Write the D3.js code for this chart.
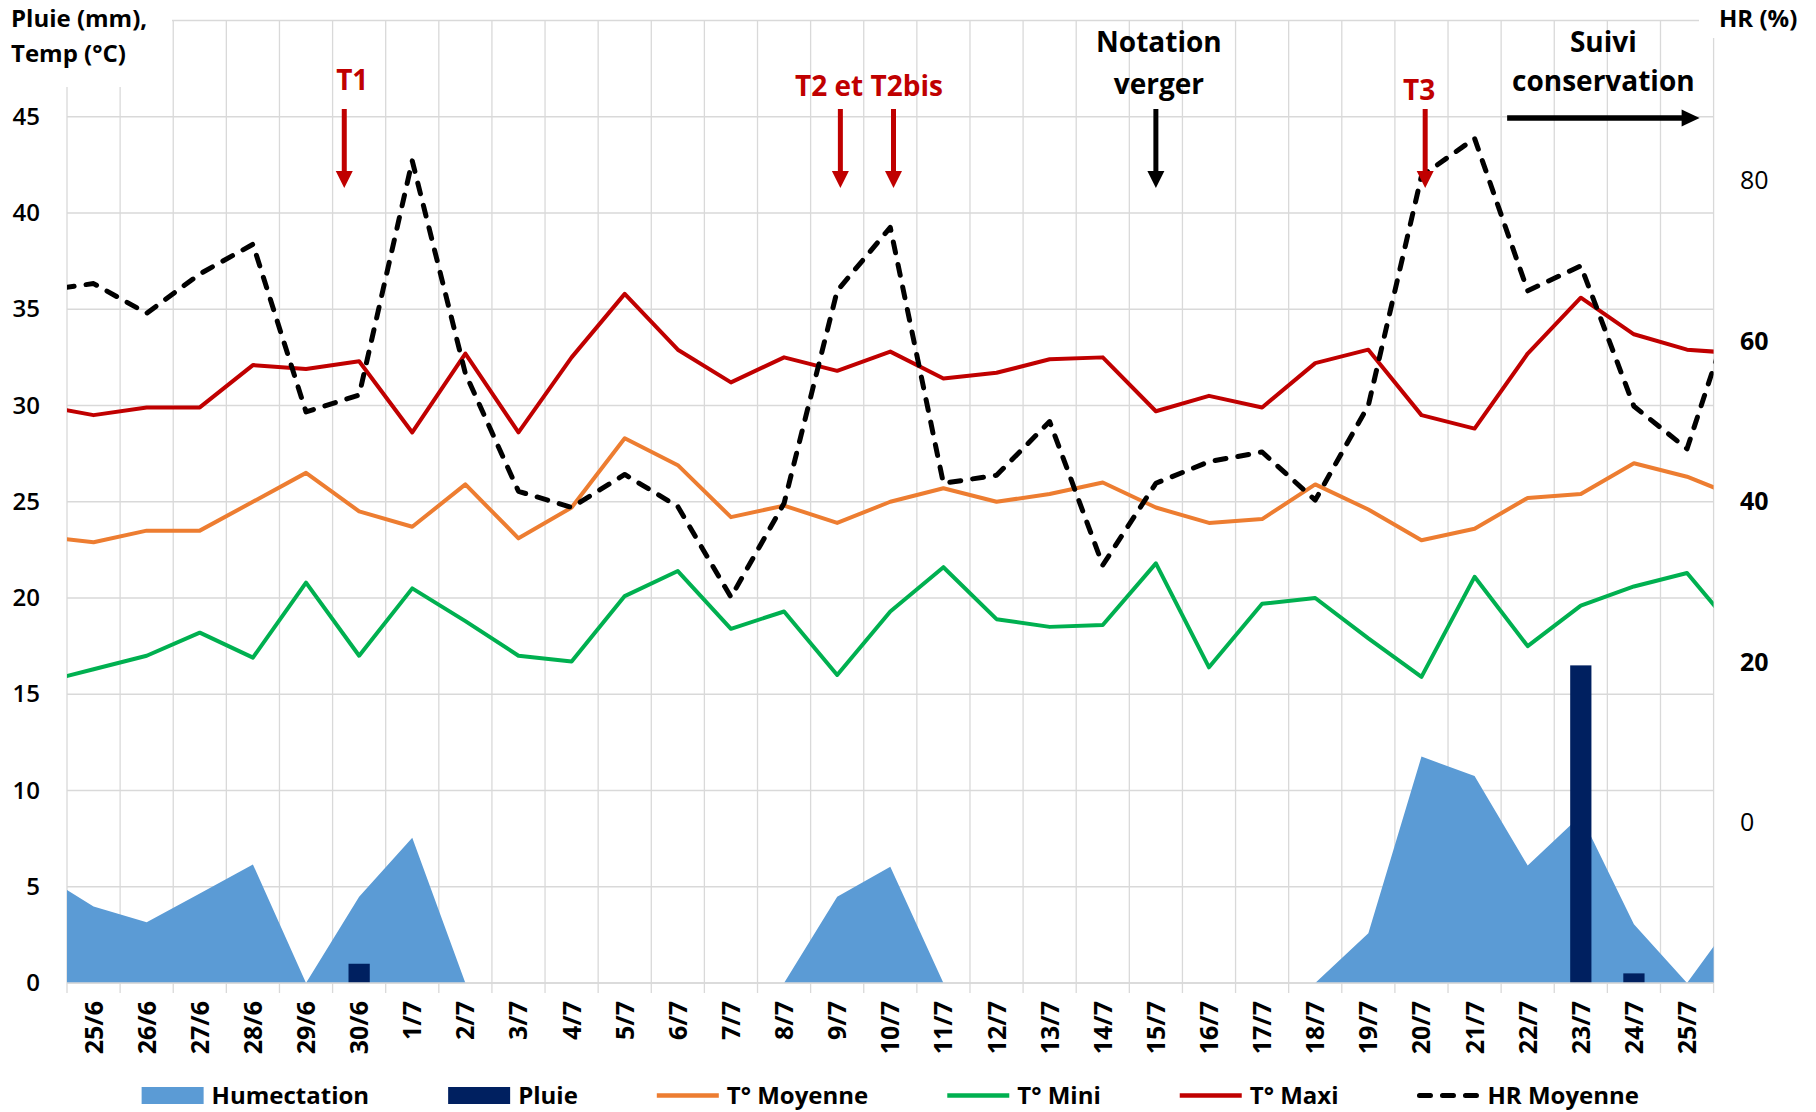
<!DOCTYPE html>
<html>
<head>
<meta charset="utf-8">
<script src="https://cdn.jsdelivr.net/npm/d3@7"></script>
<style>
  body { margin: 0; background: #fff; }
  text { font-family: "Open Sans", "Noto Sans", sans-serif; }
</style>
</head>
<body>
<svg id="chart" width="1816" height="1112"></svg>
<script>
// 24/6 and 26/7 sit just outside the plot, lines get clipped at the edges
const days = ['24/6', '25/6', '26/6', '27/6', '28/6', '29/6', '30/6',
    '1/7', '2/7', '3/7', '4/7', '5/7', '6/7', '7/7', '8/7', '9/7', '10/7', '11/7', '12/7', '13/7',
    '14/7', '15/7', '16/7', '17/7', '18/7', '19/7', '20/7', '21/7', '22/7', '23/7', '24/7', '25/7', '26/7']

const humectation = [5.7, 3.97, 3.15, 4.65, 6.16, 0, 4.48, 7.55, 0, 0, 0, 0, 0, 0, 0, 4.48, 6.04,
    0, 0, 0, 0, 0, 0, 0, 0, 2.58, 11.76, 10.75, 6.1, 8.7, 3.05, 0, 3.78]
const pluie = [0, 0, 0, 0, 0, 0, 1.0, 0, 0, 0, 0, 0, 0, 0, 0, 0, 0,
    0, 0, 0, 0, 0, 0, 0, 0, 0, 0, 0, 0, 16.5, 0.5, 0, 0]
const tMoy = [23.2, 22.9, 23.5, 23.5, 25.0, 26.5, 24.5, 23.7, 25.9, 23.1, 24.7, 28.3, 26.9, 24.2, 24.8, 23.9, 25.0,
    25.7, 25.0, 25.4, 26.0, 24.7, 23.9, 24.1, 25.9, 24.6, 23.0, 23.6, 25.2, 25.4, 27.0, 26.3, 25.2]
const tMin = [15.6, 16.3, 17.0, 18.2, 16.9, 20.8, 17.0, 20.5, 18.8, 17.0, 16.7, 20.1, 21.4, 18.4, 19.3, 16.0, 19.3,
    21.6, 18.9, 18.5, 18.6, 21.8, 16.4, 19.7, 20.0, 17.9, 15.9, 21.1, 17.5, 19.6, 20.6, 21.3, 18.0]
const tMax = [30.0, 29.5, 29.9, 29.9, 32.1, 31.9, 32.3, 28.6, 32.7, 28.6, 32.5, 35.8, 32.9, 31.2, 32.5, 31.8, 32.8,
    31.4, 31.7, 32.4, 32.5, 29.7, 30.5, 29.9, 32.2, 32.9, 29.5, 28.8, 32.7, 35.6, 33.7, 32.9, 32.7]
const hrMoy = [66.3, 67.2, 63.5, 68.4, 72.1, 51.2, 53.3, 82.5, 56.0, 41.3, 39.3, 43.4, 39.4, 28.1, 39.8, 66.3, 74.2,
    42.3, 43.3, 50.0, 32.1, 42.3, 45.0, 46.2, 40.2, 52.0, 80.6, 85.3, 66.3, 69.4, 51.9, 46.6, 66.8]

const leftTicks = d3.range(0, 50, 5)
const hrTicks = [0, 20, 40, 60, 80]
const hrBold = [20, 40, 60]

const red = '#c00000'
const svg = d3.select('#chart')
const plot = { left: 67, right: 1713.6, top: 20.5, bottom: 983 }
const shown = days.slice(1, -1)
const bw = (plot.right - plot.left) / shown.length

const x = d3.scaleBand().domain(days).range([plot.left - bw, plot.right + bw])
const cx = d => x(d) + x.bandwidth() / 2
const y = d3.scaleLinear().domain([0, 50]).range([plot.bottom, plot.top])
const yHR = d3.scaleLinear().domain([-20, 100]).range([plot.bottom, plot.top])

svg.append('defs').append('clipPath').attr('id', 'clip')
    .append('rect')
    .attr('x', plot.left).attr('y', 0)
    .attr('width', plot.right - plot.left).attr('height', plot.bottom + 5)

// grid
svg.append('g')
    .selectAll('line')
    .data(d3.range(0, 55, 5))
    .join('line')
    .attr('x1', plot.left).attr('x2', plot.right)
    .attr('y1', d => y(d)).attr('y2', d => y(d))
    .attr('stroke', '#d9d9d9').attr('stroke-width', 1.3)
const bounds = shown.map(d => x(d)).concat([x(shown[shown.length - 1]) + bw])
svg.append('g')
    .selectAll('line')
    .data(bounds)
    .join('line')
    .attr('x1', d => d).attr('x2', d => d)
    .attr('y1', plot.top).attr('y2', plot.bottom + 10)
    .attr('stroke', '#d9d9d9').attr('stroke-width', 1.3)

// humectation area
const area = d3.area()
    .x((d, i) => cx(days[i]))
    .y0(y(0))
    .y1(d => y(d))
svg.append('path')
    .datum(humectation)
    .attr('clip-path', 'url(#clip)')
    .attr('fill', '#5b9bd5')
    .attr('d', area)

// rain bars
svg.append('g')
    .selectAll('rect')
    .data(days.map((d, i) => ({ day: d, v: pluie[i] })).filter(d => d.v > 0))
    .join('rect')
    .attr('x', d => cx(d.day) - bw * 0.2)
    .attr('width', bw * 0.4)
    .attr('y', d => y(d.v))
    .attr('height', d => y(0) - y(d.v))
    .attr('fill', '#002060')

const series = [
    { name: 'T° Moyenne', values: tMoy, scale: y, color: '#ed7d31' },
    { name: 'T° Mini', values: tMin, scale: y, color: '#00b050' },
    { name: 'T° Maxi', values: tMax, scale: y, color: red },
    { name: 'HR Moyenne', values: hrMoy, scale: yHR, color: '#000', dash: '11,12', width: 5 },
]
series.forEach(s => {
    const line = d3.line()
        .x((d, i) => cx(days[i]))
        .y(d => s.scale(d))
    svg.append('path')
        .datum(s.values)
        .attr('clip-path', 'url(#clip)')
        .attr('fill', 'none')
        .attr('stroke', s.color)
        .attr('stroke-width', s.width || 4)
        .attr('stroke-linejoin', 'round')
        .attr('stroke-linecap', s.dash ? 'round' : 'butt')
        .attr('stroke-dasharray', s.dash || null)
        .attr('d', line)
})

// axes
const yAxis = svg.append('g')
    .attr('transform', 'translate(40,0)')
    .call(d3.axisLeft(y).tickValues(leftTicks).tickSize(0).tickPadding(0))
yAxis.select('.domain').remove()
yAxis.selectAll('text')
    .attr('font-size', 24).attr('font-weight', 600).attr('fill', '#000')
    .style('font-family', '"Open Sans", sans-serif')

const hrAxis = svg.append('g')
    .attr('transform', 'translate(1740,0)')
    .call(d3.axisRight(yHR).tickValues(hrTicks).tickSize(0).tickPadding(0))
hrAxis.select('.domain').remove()
hrAxis.selectAll('text')
    .attr('font-size', 25).attr('fill', '#000')
    .attr('font-weight', d => hrBold.includes(d) ? 700 : 400)
    .style('font-family', '"Open Sans", sans-serif')

const xAxis = svg.append('g')
    .attr('transform', `translate(0,${plot.bottom})`)
    .call(d3.axisBottom(x).tickValues(shown).tickSize(0))
xAxis.select('.domain').attr('stroke', '#d9d9d9').attr('stroke-width', 1.3)
    .attr('d', `M${plot.left},0H${plot.right}`)
xAxis.selectAll('text')
    .attr('transform', 'rotate(-90)')
    .attr('x', -18).attr('y', 0).attr('dy', '0.36em')
    .attr('text-anchor', 'end')
    .attr('font-size', 25).attr('font-weight', 700).attr('fill', '#000')
    .style('font-family', '"Open Sans", sans-serif')

// axis titles (they mask the grid corners)
svg.append('rect').attr('x', 0).attr('y', 0).attr('width', 172).attr('height', 87).attr('fill', '#fff')
svg.append('rect').attr('x', 1699).attr('y', 0).attr('width', 117).attr('height', 38).attr('fill', '#fff')
const title = svg.append('text').attr('font-size', 24).attr('font-weight', 700)
title.append('tspan').attr('x', 11).attr('y', 27).text('Pluie (mm),')
title.append('tspan').attr('x', 11).attr('y', 62).text('Temp (°C)')
svg.append('text').attr('x', 1719).attr('y', 27)
    .attr('font-size', 24).attr('font-weight', 700).text('HR (%)')

// treatment annotations
const notes = [
    { lines: ['T1'], days: ['30/6'], color: red, baselines: [90], shift: -0.28, textDx: 8 },
    { lines: ['T2 et T2bis'], days: ['9/7', '10/7'], color: red, baselines: [96], shift: 0.06, textDx: 2 },
    { lines: ['Notation', 'verger'], days: ['15/7'], color: '#000', baselines: [52, 94], shift: 0, textDx: 3 },
    { lines: ['T3'], days: ['20/7'], color: red, baselines: [100], shift: 0.07, textDx: -6 },
]
const arrowTop = 109, arrowTip = 188
notes.forEach(n => {
    const xs = n.days.map(d => cx(d) + n.shift * bw)
    xs.forEach(ax => {
        svg.append('line')
            .attr('x1', ax).attr('x2', ax)
            .attr('y1', arrowTop).attr('y2', arrowTip - 14)
            .attr('stroke', n.color).attr('stroke-width', 5)
        svg.append('path')
            .attr('d', `M${ax - 8.5},${arrowTip - 17}L${ax + 8.5},${arrowTip - 17}L${ax},${arrowTip}Z`)
            .attr('fill', n.color)
    })
    const tx = d3.mean(xs) + n.textDx
    n.lines.forEach((l, i) => {
        svg.append('text')
            .attr('x', tx).attr('y', n.baselines[i])
            .attr('text-anchor', 'middle')
            .attr('font-size', 28).attr('font-weight', 700)
            .attr('fill', n.color)
            .text(l)
    })
})

// storage follow-up arrow
const sx0 = x('22/7') + 6, sx1 = plot.right - 14, sy = 118
svg.append('line').attr('x1', sx0).attr('x2', sx1 - 15).attr('y1', sy).attr('y2', sy)
    .attr('stroke', '#000').attr('stroke-width', 5.5)
svg.append('path')
    .attr('d', `M${sx1 - 18},${sy - 8.5}L${sx1},${sy}L${sx1 - 18},${sy + 8.5}Z`)
    .attr('fill', '#000')
svg.append('text').attr('x', (sx0 + sx1) / 2).attr('y', 52)
    .attr('text-anchor', 'middle').attr('font-size', 28).attr('font-weight', 700).text('Suivi')
svg.append('text').attr('x', (sx0 + sx1) / 2).attr('y', 91)
    .attr('text-anchor', 'middle').attr('font-size', 28).attr('font-weight', 700).text('conservation')

// legend
const legendItems = [
    { name: 'Humectation', kind: 'rect', color: '#5b9bd5' },
    { name: 'Pluie', kind: 'rect', color: '#002060' },
    { name: 'T° Moyenne', kind: 'line', color: '#ed7d31' },
    { name: 'T° Mini', kind: 'line', color: '#00b050' },
    { name: 'T° Maxi', kind: 'line', color: red },
    { name: 'HR Moyenne', kind: 'line', color: '#000', dash: '11,12' },
]
const legend = svg.append('g')
let lx = 0
legendItems.forEach(item => {
    const g = legend.append('g').attr('transform', `translate(${lx},0)`)
    if (item.kind === 'rect') {
        g.append('rect').attr('y', -8.5).attr('width', 62).attr('height', 17).attr('fill', item.color)
    } else {
        g.append('line').attr('x1', item.dash ? 2 : 0).attr('x2', 62)
            .attr('stroke', item.color).attr('stroke-width', item.dash ? 5 : 4.5)
            .attr('stroke-linecap', item.dash ? 'round' : 'butt')
            .attr('stroke-dasharray', item.dash || null)
    }
    const t = g.append('text').attr('x', 70).attr('dy', '0.36em')
        .attr('font-size', 24).attr('font-weight', 700).text(item.name)
    lx += 70 + t.node().getComputedTextLength() + 79
})
const legendW = lx - 79
legend.attr('transform', `translate(${(plot.left + plot.right) / 2 - legendW / 2},1095.5)`)
</script>
</body>
</html>
